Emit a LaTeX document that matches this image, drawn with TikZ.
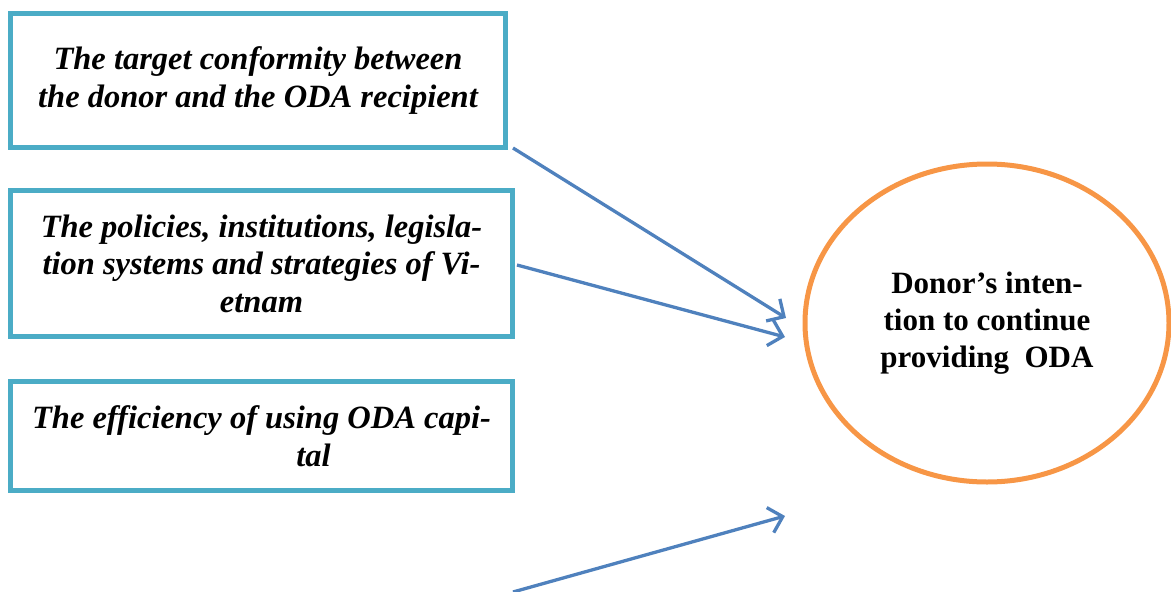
\documentclass[tikz,border=0pt]{standalone}
\usepackage{fontspec}
\setmainfont{Liberation Serif}
\usetikzlibrary{arrows.meta,shapes.geometric}
\definecolor{boxc}{HTML}{4BACC6}
\definecolor{ellc}{HTML}{F79646}
\definecolor{arrc}{HTML}{4F81BD}
\tikzset{
  factor/.style={draw=boxc, line width=5pt, inner sep=0pt, align=center,
    font=\fontsize{32.5}{37.5}\selectfont\bfseries\itshape},
  target/.style={draw=ellc, line width=5pt, ellipse, inner sep=0pt, align=center,
    font=\fontsize{31}{37}\selectfont\bfseries},
  link/.style={draw=arrc, line width=3.3pt, -{Straight Barb[length=13pt,width=26pt,line width=3.3pt]}}
}
\begin{document}
\begin{tikzpicture}[x=1pt,y=-1pt]
\useasboundingbox (0,0) rectangle (1171,592);
\node[factor, minimum width=495pt, minimum height=134pt] (b1) at (258,80.5)
  {The target conformity between\\the donor and the ODA recipient};
\node[factor, minimum width=502pt, minimum height=146pt] (b2) at (261.5,263.5)
  {The policies, institutions, legisla-\\tion systems and strategies of Vi-\\etnam};
\node[factor, minimum width=502pt, minimum height=109pt] (b3) at (261.5,436)
  {The efficiency of using ODA capi-\\\hspace*{104pt}tal};
\node[target, minimum width=364pt, minimum height=318pt] (e) at (987,323)
  {Donor’s inten-\\tion to continue\\providing\ \ ODA};
\coordinate (a1s) at (513,148);
\coordinate (a1e) at (786,318);
\coordinate (a2s) at (517,265);
\coordinate (a2e) at (785,337);
\coordinate (a3s) at (513,592);
\coordinate (a3e) at (785,516);
\draw[link] (a1s) -- (a1e);
\draw[link] (a2s) -- (a2e);
\draw[link] (a3s) -- (a3e);
\end{tikzpicture}
\end{document}
